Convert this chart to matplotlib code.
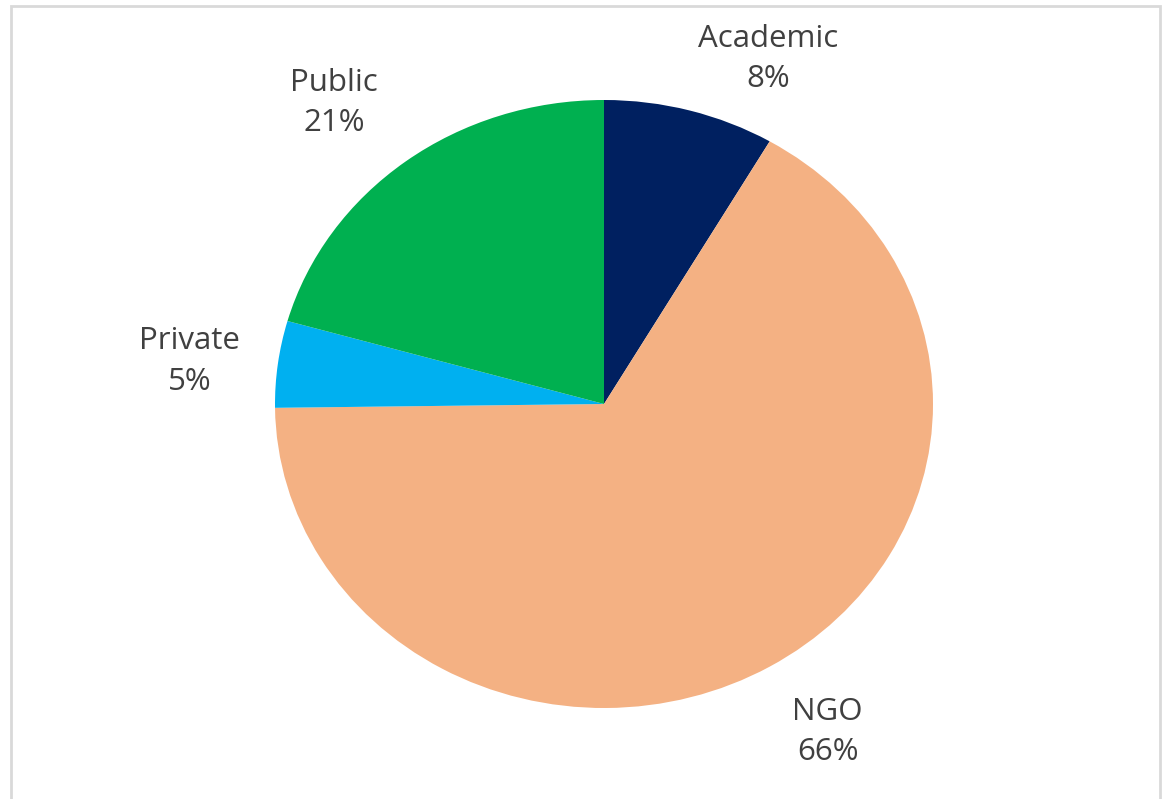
import matplotlib.pyplot as plt
from matplotlib.patches import Rectangle

# data
sectors = ['Academic', 'NGO', 'Private', 'Public']
shares = [8.4, 66.4, 4.6, 20.6]
colors = ['#002060', '#F4B183', '#00B0F0', '#00B050']
# label centres, in pie-radius units
label_pos = [(0.50, 1.135), (0.68, -1.08), (-1.26, 0.14), (-0.82, 0.99)]

W, H = 1164, 799
fig = plt.figure(figsize=(W / 100, H / 100), dpi=100)

# ellipse: rx 329 px, ry 304 px, centre (604, 404 from top)
cx, cy, rx, ry = 604, H - 404, 329, 304
ax = fig.add_axes([(cx - rx) / W, (cy - ry) / H, 2 * rx / W, 2 * ry / H])
ax.pie(shares, colors=colors, startangle=90, counterclock=False,
       wedgeprops=dict(linewidth=0))
ax.set_aspect('auto')
ax.set_xlim(-1, 1)
ax.set_ylim(-1, 1)
ax.axis('off')

for name, val, (lx, ly) in zip(sectors, shares, label_pos):
    ax.text(lx, ly, f'{name}\n{round(val)}%', ha='center', va='center',
            fontsize=22.5, color='#404040', family='Open Sans', linespacing=1.45,
            clip_on=False)

# grey frame
fig.add_artist(Rectangle((11 / W, -0.01), (1160 - 11) / W, (H - 6) / H + 0.01,
                         transform=fig.transFigure, fill=False,
                         edgecolor='#D9D9D9', linewidth=2))

fig.savefig('out.png', dpi=100)
